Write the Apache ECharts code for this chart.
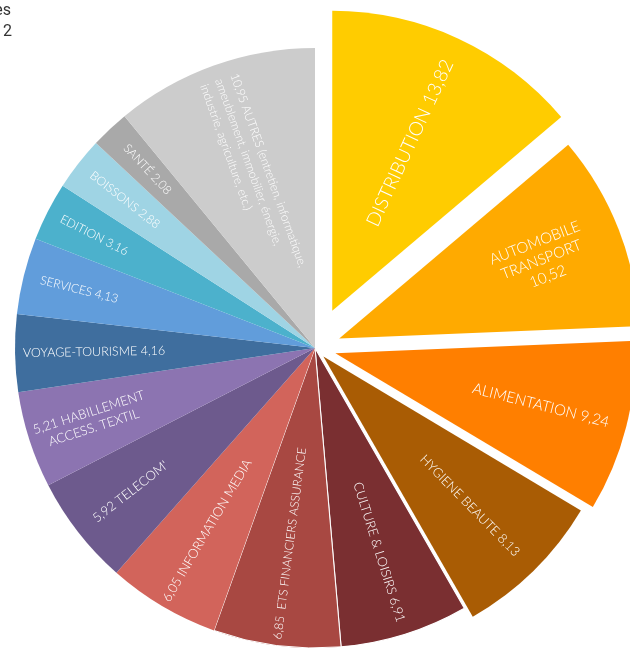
<!DOCTYPE html>
<html>
<head>
<meta charset="utf-8">
<script src="https://cdn.jsdelivr.net/npm/echarts@6/dist/echarts.min.js"></script>
<style>
  html, body { margin: 0; padding: 0; background: #ffffff; }
  #chart { width: 630px; height: 652px; }
</style>
</head>
<body>
<div id="chart"></div>
<script>
// Sectors, clockwise from 12 o'clock
const categories = [
  'DISTRIBUTION',
  'AUTOMOBILE\nTRANSPORT',
  'ALIMENTATION',
  'HYGIENE BEAUTE',
  'CULTURE & LOISIRS',
  'ETS FINANCIERS ASSURANCE',
  'INFORMATION MEDIA',
  "TELECOM'",
  'HABILLEMENT\nACCESS. TEXTIL',
  'VOYAGE-TOURISME',
  'SERVICES',
  'EDITION',
  'BOISSONS',
  'SANTÉ',
  'AUTRES (entretien, informatique,\nameublement, immobilier, énergie,\nindustrie, agriculture, etc.)'
];

// Share of each sector (%)
const shares = [13.82, 10.52, 9.24, 8.13, 6.91, 6.85, 6.05, 5.92, 5.21, 4.16, 4.13, 3.16, 2.88, 2.08, 10.95];

// How each slice label combines name {n} and value {v}
const labelTemplates = [
  '{n} {v}', '{n}\n{v}', '{n} {v}', '{n} {v}', '{n} {v}',
  '{v}  {n}', '{v} {n}', '{v} {n}', '{v} {n}', '{n} {v}',
  '{n} {v}', '{n} {v}', '{n} {v}', '{n} {v}', '{v} {n}'
];

// Text in the top-left corner
const cornerLines = ['es', '12'];

// ---- styling ----
const colors = [
  '#ffcc00', '#ffaa00', '#ff7f00', '#a95c04', '#7a2f31',
  '#a84842', '#d2645b', '#6d5a8d', '#8c74b1', '#3f6e9e',
  '#619ddb', '#4cb1cc', '#9fd4e4', '#a9a9a9', '#cccccc'
];
const explodeOffsets = [41, 26, 21, 12, 0, 0, 0, 0, 0, 0, 0, 0, 0, 0, 0];
const labelDistance = [182, 214, 209, 206, 211, 194, 209, 231, 232, 218, 240, 245, 238, 242, 180];
const labelSizes = [19, 15, 15, 13, 13, 12, 13, 13, 13, 12.5, 12, 12, 12, 12, 12];
const borderWidths = [0, 0, 0, 0, 1.2, 1, 0, 0, 0, 0, 0, 0, 0, 0, 0];

const R = 300;
const CENTER = [315, 348];
const FONT = 'Lato, "Open Sans", sans-serif';
const WEIGHT = 300;

function fmt(v) { return v.toFixed(2).replace('.', ','); }

function labelText(i) {
  return labelTemplates[i].replace('{n}', categories[i]).replace('{v}', fmt(shares[i]));
}

const hidden = { color: 'transparent', borderWidth: 0 };

function baseSeries(extra) {
  return Object.assign({
    type: 'pie',
    center: CENTER,
    startAngle: 90,
    clockwise: true,
    avoidLabelOverlap: false,
    silent: true,
    animation: false,
    emphasis: { disabled: true },
    labelLine: { show: false }
  }, extra);
}

const series = [];

// filled sectors that stay in place
series.push(baseSeries({
  radius: [0, R],
  label: { show: false },
  data: shares.map((v, i) => ({
    name: categories[i],
    value: v,
    itemStyle: explodeOffsets[i] ? hidden : {
      color: colors[i],
      borderColor: '#ffffff',
      borderWidth: borderWidths[i]
    }
  }))
}));

// pulled-out sectors, one series each so each gets its own offset
explodeOffsets.forEach((off, k) => {
  if (!off) return;
  series.push(baseSeries({
    radius: [0, R],
    selectedMode: 'single',
    selectedOffset: off,
    label: { show: false },
    select: { itemStyle: { color: colors[k] } },
    data: shares.map((v, i) => ({
      name: categories[i],
      value: v,
      selected: i === k,
      itemStyle: i === k ? { color: colors[k] } : hidden
    }))
  }));
});

// slice labels: a transparent ring per slice places the text radially at the ring's mid radius
shares.forEach((_, k) => {
  const rIn = Math.max(0, 2 * labelDistance[k] - R);
  const multiLeft = k === categories.length - 1;
  const txt = labelText(k);
  series.push(baseSeries({
    radius: [rIn, R],
    selectedMode: explodeOffsets[k] ? 'single' : false,
    selectedOffset: explodeOffsets[k],
    z: 5,
    data: shares.map((v, i) => ({
      name: categories[i],
      value: v,
      selected: i === k && explodeOffsets[k] > 0,
      itemStyle: hidden,
      label: i === k ? {
        show: true,
        position: 'inside',
        rotate: 'radial',
        color: '#ffffff',
        fontFamily: FONT,
        fontWeight: WEIGHT,
        fontSize: labelSizes[k],
        lineHeight: Math.round(labelSizes[k] * 1.2),
        formatter: multiLeft
          ? txt.split('\n').map(s => '{l|' + s + '}').join('\n')
          : txt,
        rich: multiLeft ? {
          l: { align: 'left', color: '#ffffff', fontFamily: FONT, fontWeight: WEIGHT, fontSize: labelSizes[k], lineHeight: Math.round(labelSizes[k] * 1.3) }
        } : undefined
      } : { show: false }
    })),
    select: { itemStyle: hidden }
  }));
});

const chart = echarts.init(document.getElementById('chart'), null, { renderer: 'canvas' });
chart.setOption({
  backgroundColor: '#ffffff',
  animation: false,
  series: series,
  graphic: [
    {
      type: 'text', x: 11, y: 3,
      style: { text: cornerLines[0], align: 'right', verticalAlign: 'top', fontSize: 16, fontFamily: 'Roboto, sans-serif', fill: '#333333' }
    },
    {
      type: 'text', x: 12, y: 24,
      style: { text: cornerLines[1], align: 'right', verticalAlign: 'top', fontSize: 16, fontFamily: 'Roboto, sans-serif', fill: '#333333' }
    }
  ]
});
</script>
</body>
</html>
